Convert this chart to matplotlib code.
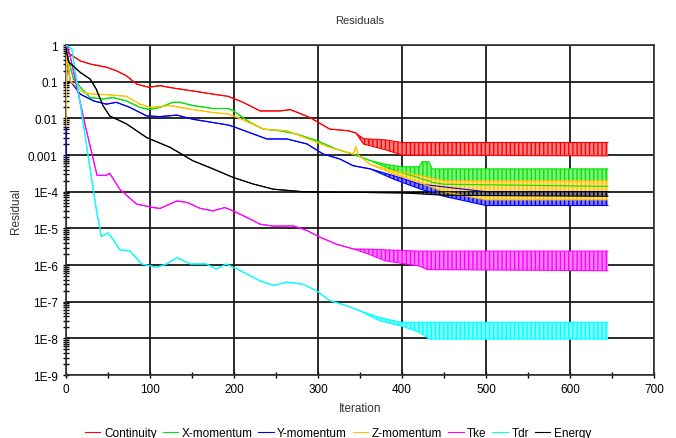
import matplotlib
matplotlib.use('Agg')
import matplotlib.pyplot as plt
import matplotlib.ticker as mticker
from matplotlib.colors import to_rgb

plt.rcParams['font.family'] = ['Liberation Sans', 'DejaVu Sans']
plt.rcParams['hatch.linewidth'] = 1.0

# Residuals: iteration, upper envelope, lower envelope
# (upper == lower while the curve is a single line, apart once it oscillates)
cont_it = [0, 1, 5, 17, 30, 48, 60, 72, 84, 98, 112, 130, 151, 175, 193, 210, 231, 255, 267, 290, 314, 336, 345, 354, 380, 400, 645]
cont_hi = [1.0, 0.7, 0.56, 0.37, 0.30, 0.25, 0.20, 0.145, 0.087, 0.071, 0.078, 0.066, 0.056, 0.046, 0.040, 0.028, 0.016, 0.016, 0.0174, 0.0107, 0.0051, 0.0046, 0.0040, 0.0028, 0.0026, 0.0022, 0.0022]
cont_lo = [1.0, 0.7, 0.56, 0.37, 0.30, 0.25, 0.20, 0.145, 0.087, 0.071, 0.078, 0.066, 0.056, 0.046, 0.040, 0.028, 0.016, 0.016, 0.0174, 0.0107, 0.0051, 0.0046, 0.0040, 0.0020, 0.0014, 0.0010, 0.00095]

xmom_it = [0, 2, 9, 17, 29, 44, 56, 72, 88, 100, 112, 127, 136, 151, 175, 193, 199, 219, 235, 255, 275, 298, 322, 341, 362, 382, 400, 420, 424, 432, 436, 450, 645]
xmom_hi = [1.0, 0.5, 0.117, 0.071, 0.037, 0.034, 0.037, 0.030, 0.020, 0.0174, 0.020, 0.0275, 0.0275, 0.0224, 0.0186, 0.0186, 0.0162, 0.0078, 0.0051, 0.0046, 0.0037, 0.0025, 0.00145, 0.00107, 0.00071, 0.00055, 0.00048, 0.00048, 0.00066, 0.00066, 0.00042, 0.00042, 0.00042]
xmom_lo = [1.0, 0.5, 0.117, 0.071, 0.037, 0.034, 0.037, 0.030, 0.020, 0.0174, 0.020, 0.0275, 0.0275, 0.0224, 0.0186, 0.0186, 0.0162, 0.0078, 0.0051, 0.0046, 0.0037, 0.0025, 0.00145, 0.00107, 0.00071, 0.00045, 0.00033, 0.00024, 0.00022, 0.0002, 0.00018, 0.00016, 0.00014]

ymom_it = [0, 1, 5, 17, 33, 48, 60, 76, 96, 112, 132, 151, 193, 199, 239, 263, 287, 306, 326, 342, 362, 390, 421, 450, 500, 645]
ymom_hi = [0.0008, 0.5, 0.107, 0.046, 0.030, 0.0245, 0.0275, 0.020, 0.0117, 0.0112, 0.0123, 0.0095, 0.0066, 0.0060, 0.00275, 0.00275, 0.0020, 0.00107, 0.00078, 0.00051, 0.00042, 0.000275, 0.000162, 0.000135, 0.0001, 0.0001]
ymom_lo = [0.0008, 0.5, 0.107, 0.046, 0.030, 0.0245, 0.0275, 0.020, 0.0117, 0.0112, 0.0123, 0.0095, 0.0066, 0.0060, 0.00275, 0.00275, 0.0020, 0.00107, 0.00078, 0.00051, 0.00042, 0.00022, 0.00012, 7.5e-5, 4.2e-5, 4.2e-5]

zmom_it = [0, 1, 5, 20, 33, 52, 72, 88, 100, 124, 151, 175, 193, 207, 235, 263, 294, 314, 342, 345, 348, 362, 390, 420, 450, 500, 645]
zmom_hi = [0.006, 0.6, 0.107, 0.051, 0.046, 0.044, 0.040, 0.0245, 0.020, 0.0224, 0.0174, 0.0145, 0.0132, 0.010, 0.0051, 0.0046, 0.00245, 0.00162, 0.00107, 0.0017, 0.0010, 0.00056, 0.00037, 0.00028, 0.0002, 0.0002, 0.0002]
zmom_lo = [0.006, 0.6, 0.107, 0.051, 0.046, 0.044, 0.040, 0.0245, 0.020, 0.0224, 0.0174, 0.0145, 0.0132, 0.010, 0.0051, 0.0046, 0.00245, 0.00162, 0.00107, 0.0017, 0.0010, 0.00056, 0.00030, 0.00018, 0.0001, 6e-5, 6e-5]

tke_it = [0, 5, 23, 37, 48, 52, 64, 84, 104, 112, 132, 144, 160, 175, 189, 199, 215, 231, 247, 271, 287, 302, 322, 342, 360, 380, 420, 430, 645]
tke_hi = [1.0, 0.5, 0.0063, 0.00028, 0.00028, 0.00032, 0.000117, 4.6e-5, 3.7e-5, 3.5e-5, 5.6e-5, 5.1e-5, 3.5e-5, 3.0e-5, 3.7e-5, 3.0e-5, 2.0e-5, 1.3e-5, 1.15e-5, 1.17e-5, 8.7e-6, 5.8e-6, 3.7e-6, 2.75e-6, 2.7e-6, 2.6e-6, 2.4e-6, 2.4e-6, 2.4e-6]
tke_lo = [1.0, 0.5, 0.0063, 0.00028, 0.00028, 0.00032, 0.000117, 4.6e-5, 3.7e-5, 3.5e-5, 5.6e-5, 5.1e-5, 3.5e-5, 3.0e-5, 3.7e-5, 3.0e-5, 2.0e-5, 1.3e-5, 1.15e-5, 1.17e-5, 8.7e-6, 5.8e-6, 3.7e-6, 2.75e-6, 2.0e-6, 1.3e-6, 9.5e-7, 7.5e-7, 7e-7]

tdr_it = [0, 7, 36, 42, 50, 56, 64, 76, 90, 108, 120, 132, 148, 167, 179, 191, 207, 231, 247, 263, 282, 298, 314, 334, 350, 374, 398, 420, 433, 645]
tdr_hi = [1.0, 0.78, 3.4e-5, 6e-6, 7.5e-6, 5e-6, 2.6e-6, 2.45e-6, 1.07e-6, 8.7e-7, 1.07e-6, 1.6e-6, 1.07e-6, 1.07e-6, 7.8e-7, 1.07e-6, 7.1e-7, 3.7e-7, 2.8e-7, 3.4e-7, 3.0e-7, 2.0e-7, 1.07e-7, 7.8e-8, 5.6e-8, 3.7e-8, 2.75e-8, 2.75e-8, 2.75e-8, 2.75e-8]
tdr_lo = [1.0, 0.78, 3.4e-5, 6e-6, 7.5e-6, 5e-6, 2.6e-6, 2.45e-6, 1.07e-6, 8.7e-7, 1.07e-6, 1.6e-6, 1.07e-6, 1.07e-6, 7.8e-7, 1.07e-6, 7.1e-7, 3.7e-7, 2.8e-7, 3.4e-7, 3.0e-7, 2.0e-7, 1.07e-7, 7.8e-8, 5.6e-8, 3.0e-8, 2.2e-8, 1.5e-8, 9.5e-9, 9.5e-9]

energy_it = [0, 3, 17, 29, 36, 44, 52, 72, 96, 124, 151, 175, 199, 223, 247, 282, 400, 450, 645]
energy_hi = [0.8, 0.35, 0.18, 0.117, 0.063, 0.0224, 0.0117, 0.0071, 0.003, 0.00162, 0.0007, 0.00042, 0.000245, 0.000162, 0.000117, 0.0001, 9.3e-5, 0.0001, 0.0001]
energy_lo = [0.8, 0.35, 0.18, 0.117, 0.063, 0.0224, 0.0117, 0.0071, 0.003, 0.00162, 0.0007, 0.00042, 0.000245, 0.000162, 0.000117, 0.0001, 9.3e-5, 8e-5, 7.5e-5]

series = [
    ('Continuity', '#ff0000', cont_it, cont_hi, cont_lo),
    ('X-momentum', '#00e600', xmom_it, xmom_hi, xmom_lo),
    ('Y-momentum', '#0000ff', ymom_it, ymom_hi, ymom_lo),
    ('Z-momentum', '#ffc000', zmom_it, zmom_hi, zmom_lo),
    ('Tke', '#ff00ff', tke_it, tke_hi, tke_lo),
    ('Tdr', '#00ffff', tdr_it, tdr_hi, tdr_lo),
    ('Energy', '#000000', energy_it, energy_hi, energy_lo),
]

y_ticks = [1, 0.1, 0.01, 0.001, 1e-4, 1e-5, 1e-6, 1e-7, 1e-8, 1e-9]
y_tick_labels = ['1', '0.1', '0.01', '0.001', '1E-4', '1E-5', '1E-6', '1E-7', '1E-8', '1E-9']

fig = plt.figure(figsize=(6.76, 4.39), dpi=100)
ax = fig.add_axes([0.0976, 0.1435, 0.87, 0.7515])

for nom, couleur, it, hi, lo in series:
    # bande d'oscillation : fond clair + rayures verticales de la couleur pleine
    clair = tuple(0.5 + 0.5 * c for c in to_rgb(couleur))
    ax.fill_between(it, lo, hi, facecolor=clair, edgecolor=couleur, hatch='||||',
                    linewidth=0, zorder=2)
    ax.plot(it, hi, color=couleur, lw=0.8, zorder=3, label=nom)
    ax.plot(it, lo, color=couleur, lw=0.8, zorder=3)

ax.set_yscale('log')
ax.set_ylim(1e-9, 1)
ax.set_xlim(0, 700)
ax.set_yticks(y_ticks)
ax.yaxis.set_major_formatter(mticker.FixedFormatter(y_tick_labels))
ax.yaxis.set_minor_locator(mticker.LogLocator(base=10, subs=range(2, 10), numticks=20))
ax.yaxis.set_minor_formatter(mticker.NullFormatter())
ax.xaxis.set_major_locator(mticker.MultipleLocator(100))
ax.xaxis.set_minor_locator(mticker.MultipleLocator(50))

ax.grid(True, which='major', color='#1a1a1a', lw=1.3, zorder=1)
ax.set_axisbelow(True)
ax.tick_params(which='major', direction='inout', length=5, width=1, labelsize=8.5, colors='black')
ax.tick_params(which='minor', direction='inout', length=4, width=1)
for s in ax.spines.values():
    s.set_color('#333333')
    s.set_linewidth(1.2)

ax.set_title('Residuals', fontsize=8, color='#333333', pad=16)
ax.set_xlabel('Iteration', fontsize=8.5, color='#333333', labelpad=5)
ax.set_ylabel('Residual', fontsize=8.5, color='#333333', labelpad=4)

fig.legend(loc='lower center', bbox_to_anchor=(0.5, -0.026), ncol=7, frameon=False,
           fontsize=8.5, handlelength=1.3, handletextpad=0.3, columnspacing=0.5)

fig.savefig('out.png', dpi=100)
